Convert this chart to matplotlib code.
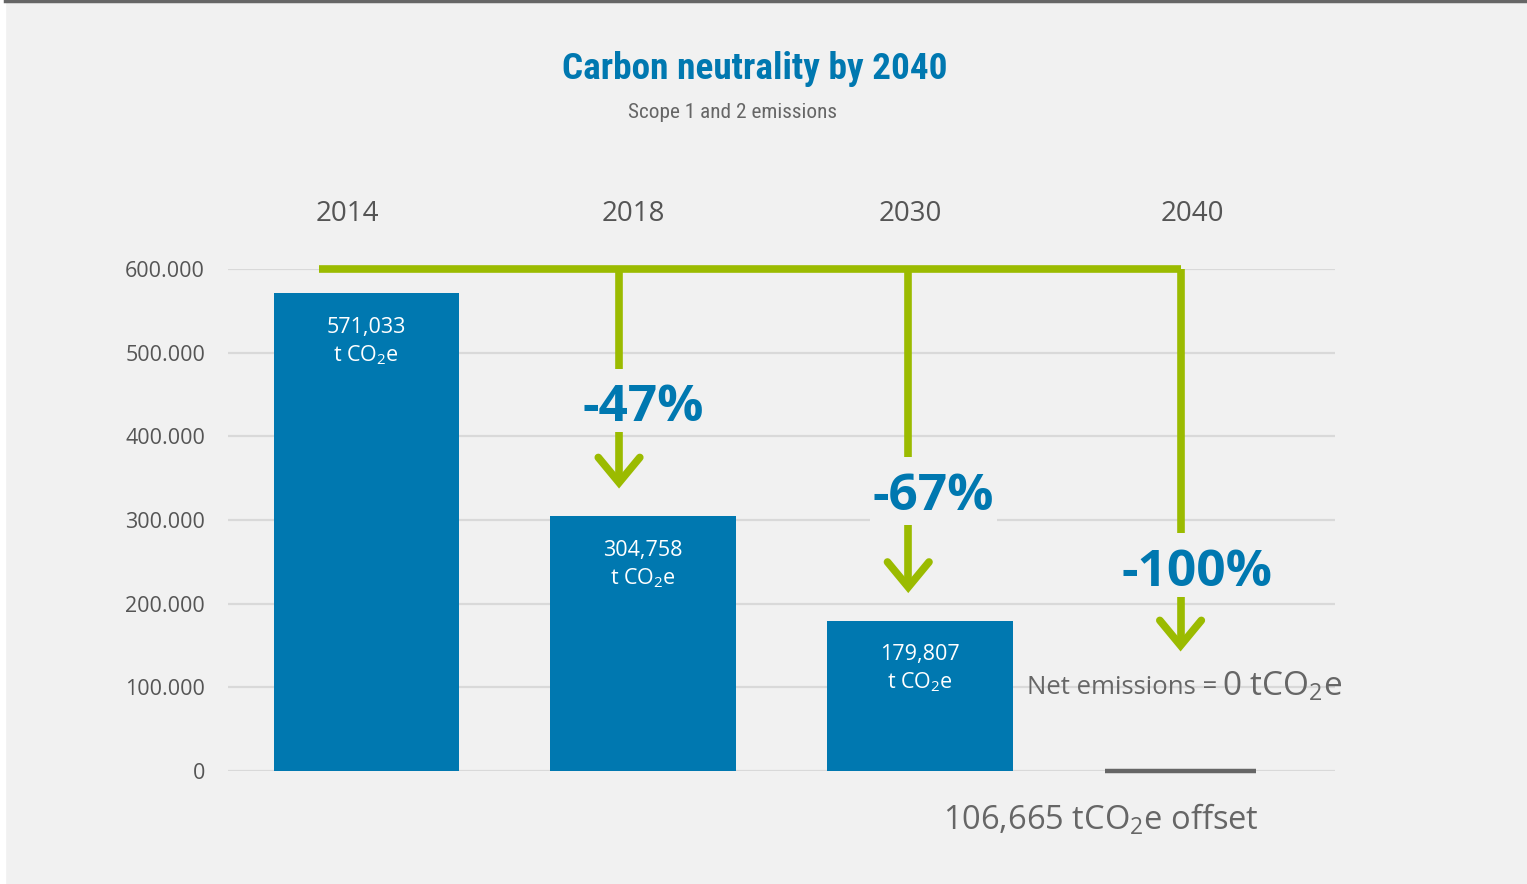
import matplotlib.pyplot as plt
import matplotlib.patches as mpatches
from matplotlib.ticker import FuncFormatter

# ── data ──────────────────────────────
years = ["2014", "2018", "2030", "2040"]
emissions = [571033, 304758, 179807, 0]
bar_labels = ["571,033", "304,758", "179,807"]
pct_labels = ["-47%", "-67%", "-100%"]
offset_label = "106,665 tCO$_2$e offset"

# ── style ─────────────────────────────
BG = "#f1f1f1"
BLUE = "#0078b0"
GREEN = "#9bbb00"
GREY = "#666666"

plt.rcParams["font.family"] = ["Open Sans", "DejaVu Sans"]
plt.rcParams["mathtext.fontset"] = "custom"
plt.rcParams["mathtext.rm"] = "Open Sans"
plt.rcParams["mathtext.it"] = "Open Sans:italic"
plt.rcParams["mathtext.bf"] = "Open Sans:bold"

fig = plt.figure(figsize=(15.27, 8.84), dpi=100, facecolor=BG)
# thin white strip on the left + dark top rule
fig.patches.append(mpatches.Rectangle((0, 0), 5 / 1527, 1, transform=fig.transFigure,
                                      color="white", zorder=0))
fig.add_artist(plt.Line2D([5 / 1527, 1], [0.9985, 0.9985], transform=fig.transFigure,
                          color=GREY, lw=2.5))

ax = fig.add_axes([228 / 1527, 113 / 884, 1107 / 1527, 502 / 884])
ax.set_facecolor(BG)
pos = list(range(len(years)))

# green arrow positions (slightly left of each bar centre)
arrow_dx = [-0.087, -0.042, -0.058]
arrow_x = [p + dx for p, dx in zip(pos[1:], arrow_dx)]

# bars
ax.bar(pos[:3], emissions[:3], width=0.67, color=BLUE, zorder=2)
ax.hlines(emissions[3], arrow_x[-1] - 0.273, arrow_x[-1] + 0.273,
          color=GREY, lw=3.2, zorder=2, clip_on=False)

for x, v, lab in zip(pos, emissions, bar_labels):
    ax.annotate(lab + "\nt CO$_2$e", xy=(x, v), xytext=(0, -17),
                textcoords="offset points", ha="center", va="top",
                color="white", fontsize=15.5, linespacing=1.3, zorder=3)

# axes look
ax.set_xlim(-0.5, 3.5)
ax.set_ylim(0, 600000)
ax.set_yticks(range(0, 600001, 100000))
ax.yaxis.set_major_formatter(FuncFormatter(lambda v, _: f"{int(v):,}".replace(",", ".")))
ax.tick_params(axis="y", length=0, pad=16.5, labelsize=15.5, labelcolor="#555555")
ax.grid(axis="y", color="#d9d9d9", lw=1.6, zorder=0)
ax.set_axisbelow(True)
for s in ax.spines.values():
    s.set_visible(False)
ax.set_xticks([])

# year headers above the plot
year_dx = [-0.07, -0.035, -0.035, -0.015]
for x, dx, yr in zip(pos, year_dx, years):
    ax.text(x + dx, 666000, yr, ha="center", va="center", color="#555555",
            fontsize=20, clip_on=False)

# green reduction arrows
top = 600000
arrow_gap = 40000
net_y = 100000
label_dy = [73000, 92000, 71000]
label_dx = [0.0, 0.05, 0.0]
label_mask = [False, True, False]   # only -67% blanks the gridline behind it
ax.plot([pos[0] - 0.17, arrow_x[-1]], [top, top], color=GREEN, lw=5.5,
        solid_capstyle="butt", clip_on=False, zorder=4)
for i, (x, v) in enumerate(zip(arrow_x, emissions[1:])):
    tip = max(v, net_y + 10000) + arrow_gap
    base = tip + label_dy[i]
    # vertical stem, broken around the label
    ax.plot([x, x], [top, base + 63000], color=GREEN, lw=5.5,
            solid_capstyle="butt", clip_on=False, zorder=4)
    ax.plot([x, x], [base - 13000, tip + 5000], color=GREEN, lw=5.5,
            solid_capstyle="butt", zorder=4)
    ax.plot([x - 0.075, x, x + 0.075], [tip + 30000, tip, tip + 30000],
            color=GREEN, lw=5.5, solid_joinstyle="miter", solid_capstyle="round",
            zorder=4)
    t = ax.text(pos[i + 1] + label_dx[i], base, pct_labels[i],
                ha="center", va="baseline", color=BLUE, fontsize=37,
                fontweight="bold", zorder=5)
    if label_mask[i]:
        t.set_bbox(dict(boxstyle="square,pad=0.05", facecolor=BG, edgecolor="none"))

# net emissions / offset notes
ax.text(pos[3] + 0.074, net_y, "Net emissions =", ha="right", va="center",
        color=GREY, fontsize=18.5, zorder=5)
ax.text(pos[3] + 0.092, net_y, "0 tCO$_2$e", ha="left", va="center",
        color=GREY, fontsize=24, zorder=5, clip_on=False)
ax.text(pos[3] - 0.347, -58000, offset_label, ha="center", va="center",
        color=GREY, fontsize=23.5, clip_on=False)

# titles
fig.text(755 / 1527, 1 - 69 / 884, "Carbon neutrality by 2040", ha="center", va="center",
         color=BLUE, fontsize=26.8, fontweight="bold",
         family=["Roboto Condensed", "Roboto", "DejaVu Sans"])
fig.text(733 / 1527, 1 - 113 / 884, "Scope 1 and 2 emissions", ha="center", va="center",
         color=GREY, fontsize=15.3, family=["Roboto Condensed", "Roboto", "DejaVu Sans"])

fig.savefig("out.png", dpi=100, facecolor=BG)
